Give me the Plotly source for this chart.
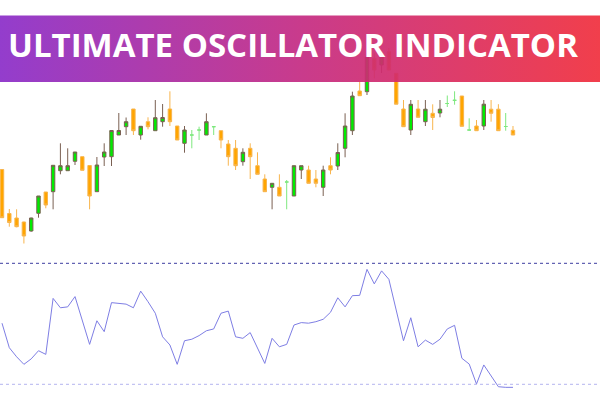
import plotly.graph_objects as go

# ---- candle data (price units) ----
opens  = [90.5, 46.5, 42.0, 38.0, 29.0, 46.7, 68.0, 68.3, 89.3, 89.3,
          98.7, 103.3, 94.5, 68.3, 103.0, 103.3, 125.0, 133.3, 151.0, 125.0,
          138.3, 129.3, 138.3, 151.0, 134.0, 116.7, 125.0, 130.0, 125.0, 133.3,
          129.3, 116.0, 111.7, 98.3, 111.7, 94.3, 81.0, 72.7, 72.7, 78.0,
          64.0, 90.0, 90.0, 81.0, 72.7, 94.3, 94.0, 111.7, 129.3, 169.0,
          168.3, 201.7, 195.0, 208.3, 186.7, 151.0, 130.0, 151.0, 138.3, 146.7,
          147.0, 156.5, 159.7, 164.0, 130.0, 134.0, 134.0, 150.8, 150.8, 133.5,
          129.7]
highs  = [90.5, 51.0, 50.7, 38.3, 42.3, 64.0, 68.0, 94.7, 116.7, 111.7,
          108.0, 103.3, 94.5, 103.0, 116.7, 129.5, 147.0, 142.5, 151.0, 133.7,
          142.7, 160.0, 156.0, 168.7, 134.0, 134.0, 130.0, 133.3, 146.7, 133.3,
          129.3, 120.0, 120.0, 111.7, 116.7, 107.7, 85.7, 76.7, 85.7, 80.0,
          94.3, 94.3, 94.3, 90.0, 94.3, 102.7, 116.7, 146.7, 168.3, 178.3,
          207.0, 206.7, 203.3, 212.0, 186.7, 160.0, 160.0, 160.0, 160.0, 155.7,
          160.0, 164.5, 168.7, 164.0, 141.7, 140.0, 160.0, 160.0, 155.8, 147.0,
          134.0]
lows   = [42.3, 33.3, 32.7, 16.5, 28.3, 42.3, 51.7, 50.7, 85.7, 89.3,
          95.0, 89.7, 50.7, 68.3, 94.0, 94.0, 125.0, 125.0, 125.0, 120.3,
          130.7, 129.3, 133.3, 134.0, 120.0, 107.3, 111.7, 120.0, 125.0, 125.0,
          111.7, 94.3, 90.0, 94.3, 81.0, 85.7, 68.3, 50.7, 64.0, 50.7,
          64.0, 81.0, 76.7, 72.7, 64.0, 85.7, 90.0, 102.7, 125.0, 164.3,
          165.0, 181.7, 187.0, 190.0, 155.8, 133.3, 125.0, 142.7, 134.0, 130.0,
          142.7, 153.0, 155.3, 133.7, 129.3, 129.3, 130.0, 138.3, 129.3, 129.3,
          125.0]
closes = [42.3, 37.5, 33.3, 24.0, 42.0, 64.0, 55.0, 94.7, 94.3, 94.3,
          108.0, 89.7, 64.0, 95.0, 108.0, 129.5, 129.5, 138.3, 129.3, 133.7,
          133.3, 142.3, 142.5, 138.3, 120.0, 130.0, 125.0, 130.0, 138.3, 133.3,
          120.0, 103.3, 94.3, 107.7, 103.3, 85.7, 68.3, 76.7, 64.0, 78.0,
          94.3, 94.3, 76.7, 76.7, 90.0, 90.0, 107.5, 134.0, 164.0, 164.3,
          203.0, 190.0, 203.3, 190.0, 155.8, 133.3, 155.7, 142.7, 150.8, 142.5,
          150.8, 156.5, 159.7, 133.7, 130.0, 129.3, 155.8, 146.7, 129.3, 133.5,
          125.0]
doji_bars = [26, 27, 29, 39, 61, 62, 64, 69]

# ---- oscillator data ----
osc = [50.2, 42.1, 39.1, 36.6, 38.4, 41.1, 39.9, 58.4, 55.3, 55.6,
       59.0, 51.2, 43.2, 51.0, 47.4, 57.0, 56.8, 56.5, 55.3, 60.8,
       57.3, 53.5, 45.7, 43.0, 36.6, 44.4, 44.9, 46.1, 47.7, 48.3,
       53.5, 54.2, 45.7, 45.2, 47.1, 41.9, 36.9, 45.2, 42.4, 43.2,
       49.6, 50.4, 50.2, 50.7, 51.5, 53.8, 58.6, 55.6, 59.3, 59.4,
       68.0, 63.2, 67.5, 64.7, 54.0, 44.4, 52.0, 42.4, 44.6, 43.2,
       44.9, 48.3, 49.5, 38.6, 36.7, 30.1, 36.4, 32.8, 29.2, 29.0,
       29.0]
levels = [70, 30]
title_text = "ULTIMATE OSCILLATOR INDICATOR"

idx = list(range(len(opens)))
norm = [i for i in idx if i not in doji_bars]

def pick(arr, ids):
    return [arr[i] for i in ids]

fig = go.Figure()

fig.add_trace(go.Candlestick(
    x=norm, open=pick(opens, norm), high=pick(highs, norm),
    low=pick(lows, norm), close=pick(closes, norm),
    increasing=dict(fillcolor="#00EC00", line=dict(color="#7a6052", width=1)),
    decreasing=dict(fillcolor="#FFA500", line=dict(color="#F8B54E", width=1)),
    whiskerwidth=0, hoverinfo="skip", showlegend=False))

fig.add_trace(go.Candlestick(
    x=doji_bars, open=pick(opens, doji_bars), high=pick(highs, doji_bars),
    low=pick(lows, doji_bars), close=pick(closes, doji_bars),
    increasing=dict(fillcolor="#7EE87E", line=dict(color="#7EE87E", width=1)),
    decreasing=dict(fillcolor="#7EE87E", line=dict(color="#7EE87E", width=1)),
    whiskerwidth=0, hoverinfo="skip", showlegend=False))

fig.add_trace(go.Scatter(
    x=idx, y=osc, mode="lines", yaxis="y2",
    line=dict(color="#7e7ee4", width=1), hoverinfo="skip", showlegend=False))

# banner (overlay subplot in pixel-like coordinates)
fig.add_trace(go.Scatter(
    x=[0, 600, 600, 0, 0], y=[15.5, 15.5, 82, 82, 15.5],
    xaxis="x3", yaxis="y3", mode="lines", fill="toself",
    line=dict(width=0),
    fillgradient=dict(type="horizontal",
                      colorscale=[[0, "#8A2CC8"], [0.5, "#C42A82"], [1, "#F02E3C"]]),
    opacity=0.92, hoverinfo="skip", showlegend=False))

level_colors = ["#3c3ca0", "#b4b4ef"]
for lv, col in zip(levels, level_colors):
    fig.add_shape(type="line", xref="paper", x0=0, x1=1, yref="y2", y0=lv, y1=lv,
                  line=dict(color=col, width=1, dash="dot"))

fig.add_annotation(x=293, y=44, xref="x3", yref="y3", text=title_text,
                   showarrow=False,
                   font=dict(family="Open Sans", size=33, color="white", weight=700),
                   xanchor="center", yanchor="middle")

fig.update_layout(
    width=600, height=400, margin=dict(l=0, r=0, t=0, b=0),
    paper_bgcolor="white", plot_bgcolor="rgba(0,0,0,0)", boxgap=0.33,
    xaxis=dict(range=[-0.274, 81.92], visible=False, rangeslider=dict(visible=False),
               showgrid=False, zeroline=False),
    yaxis=dict(range=[-140, 260], domain=[0, 1], visible=False, showgrid=False),
    yaxis2=dict(range=[24.81, 157.05], overlaying="y", visible=False, showgrid=False),
    xaxis3=dict(range=[0, 600], domain=[0, 1], anchor="y3", visible=False),
    yaxis3=dict(range=[400, 0], domain=[0, 1], anchor="x3", visible=False),
)

fig.write_html("out.html", config={"displayModeBar": False},
               post_script="document.body.style.margin='0';")
